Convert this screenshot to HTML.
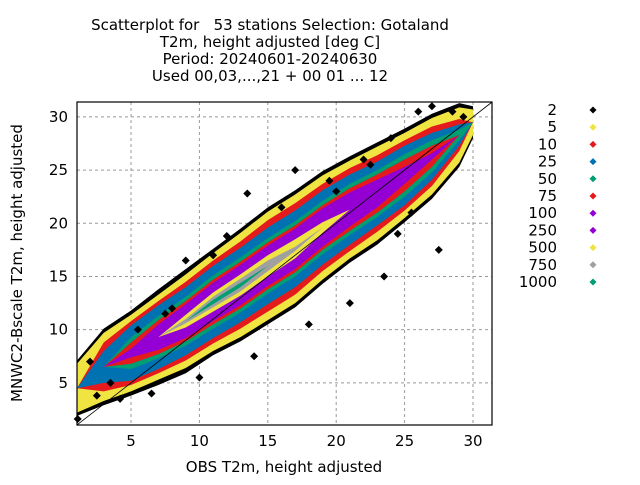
<!DOCTYPE html>
<html><head><meta charset="utf-8"><style>
body{margin:0;background:#fff;}
svg text{font-family:"DejaVu Sans","Liberation Sans",sans-serif;fill:#000;}
</style></head><body>
<svg id="chart" width="640" height="480" viewBox="0 0 640 480">
<g font-size="15" text-anchor="middle">
<text x="270" y="30" xml:space="preserve">Scatterplot for   53 stations Selection: Gotaland</text>
<text x="270" y="47">T2m, height adjusted [deg C]</text>
<text x="270" y="64">Period: 20240601-20240630</text>
<text x="270" y="81">Used 00,03,...,21 + 00 01 ... 12</text>
</g>
<g id="grid"></g>
<g id="bands"></g>
<g id="pts"></g>
<line id="diag" stroke="#000" stroke-width="0.8"/>
<rect x="77" y="102" width="415" height="323" fill="none" stroke="#000" stroke-width="1.2"/>
<g id="ticks" font-size="15"></g>
<text x="284" y="472" font-size="15" text-anchor="middle">OBS T2m, height adjusted</text>
<text transform="translate(22,263) rotate(-90)" font-size="15" text-anchor="middle">MNWC2-Bscale T2m, height adjusted</text>
<g id="legend" font-size="15"></g>
</svg>
<script>
const xs      = [1,3,5,7,9,11,13,15,17,19,21,23,25,27,29,30];
const centers = [4.5,6.5,7.8,9.3,10.8,12.6,14.2,16,17.6,19.6,21.3,22.8,24.5,26.3,28.3,29.5];
const levels  = ["2","5","10","25","50","75","100","250","500","750","1000"];
const colors  = ["#000000","#f0e442","#e41a1c","#0072b2","#009e73","#e41a1c","#9400d3","#9400d3","#f0e442","#a0a0a0","#009e73"];
const hwBlack  = [2.6,3.6,4,4.5,4.9,5,5.3,5.5,5.5,5.3,5,4.8,4.4,4,3,1.5];
const hwY5     = [2.3,3.2,3.6,4,4.4,4.6,4.9,5.1,5.1,4.9,4.6,4.4,4,3.6,2.6,1.2];
const hwR10    = [0,2.3,3,3.4,3.7,3.9,4.1,4.3,4.3,4.1,3.9,3.6,3.3,2.8,1.5,0];
const hwB25    = [0,1.5,2.6,3,3.2,3.4,3.5,3.6,3.6,3.5,3.3,3,2.8,2.2,1,0];
const hwT50    = [0,0,1.5,2,2.3,2.5,2.6,2.6,2.6,2.5,2.4,2.2,2,1.5,0.5,0];
const hwR75    = [0,0,1,1.6,1.9,2.1,2.2,2.2,2.2,2.1,2,1.8,1.5,1,0,0];
const hwP100   = [0,0,0.4,1.2,1.6,1.8,1.9,1.9,1.9,1.8,1.6,1.3,0.8,0.3,0,0];
const hwP250   = [0,0,0,0.7,1.2,1.5,1.6,1.6,1.6,1.4,1.1,0.6,0,0,0,0];
const hwY500   = [0,0,0,0,0.6,0.9,1,1,0.9,0.5,0,0,0,0,0,0];
const hwG750   = [0,0,0,0,0.2,0.5,0.6,0.5,0.2,0,0,0,0,0,0,0];
const hwT1000  = [0,0,0,0,0,0.2,0.2,0,0,0,0,0,0,0,0,0];
const outX = [1.1,2,3.5,4.2,6.5,8,9,12,13.5,17,20,22,24,26,27,28.5,29.3,18,21,23.5,10,14,25.5,27.5,11,16,19.5,22.5,7.5,5.5,2.5,24.5];
const outY = [1.6,7,5,3.5,4,12,16.5,18.8,22.8,25,23,26,28,30.5,31,30.5,30,10.5,12.5,15,5.5,7.5,21,17.5,17,21.5,24,25.5,11.5,10,3.8,19];
const ticks = [5,10,15,20,25,30];

const NS="http://www.w3.org/2000/svg";
const X0=1.05,X1=31.39,Y0=1.04,Y1=31.4;
const sx=v=>77+(v-X0)/(X1-X0)*415;
const sy=v=>425-(v-Y0)/(Y1-Y0)*323;
function mk(tag,p,a){const e=document.createElementNS(NS,tag);for(const k in a)e.setAttribute(k,a[k]);p.appendChild(e);return e;}

const grid=document.getElementById('grid'),tk=document.getElementById('ticks');
ticks.forEach(t=>{
  const g1=mk('line',grid,{x1:sx(t),x2:sx(t),y1:102,y2:425,stroke:'#999','stroke-dasharray':'3,3','stroke-width':1});
  
  
  const g2=mk('line',grid,{x1:77,x2:492,y1:sy(t),y2:sy(t),stroke:'#999','stroke-dasharray':'3,3','stroke-width':1});
  
  
  const a=mk('text',tk,{x:sx(t),y:446,'text-anchor':'middle'});a.textContent=t;
  
  
  const b=mk('text',tk,{x:68,y:sy(t)+5,'text-anchor':'end'});b.textContent=t;
  
  
});

const hws=[hwBlack,hwY5,hwR10,hwB25,hwT50,hwR75,hwP100,hwP250,hwY500,hwG750,hwT1000];
const bands=document.getElementById('bands');
hws.forEach((hw,li)=>{
  const up=[],lo=[];
  xs.forEach((x,i)=>{
    const cx=Math.max(X0,Math.min(X1,x));
    up.push(sx(cx)+','+sy(Math.min(Y1,centers[i]+hw[i])));
    lo.unshift(sx(cx)+','+sy(Math.max(Y0,centers[i]-hw[i])));
  });
  const p=mk('polygon',bands,{points:up.concat(lo).join(' '),fill:colors[li]});
  
  
});
const pts=document.getElementById('pts');
outX.forEach((x,i)=>{
  const X=sx(x),Y=sy(outY[i]);
  const d=mk('polygon',pts,{points:`${X},${Y-4} ${X+4},${Y} ${X},${Y+4} ${X-4},${Y}`,fill:'#000'});
  
  
});
const dg=document.getElementById('diag');
dg.setAttribute('x1',sx(X0));dg.setAttribute('y1',sy(X0));
dg.setAttribute('x2',sx(Y1));dg.setAttribute('y2',sy(Y1));

const lg=document.getElementById('legend');
levels.forEach((l,i)=>{
  const y=110+i*17.2;
  const t=mk('text',lg,{x:557,y:y+5,'text-anchor':'end'});t.textContent=l;
  
  
  const d=mk('polygon',lg,{points:`593,${y-3.5} 596.5,${y} 593,${y+3.5} 589.5,${y}`,fill:colors[i]});
  
  
});
</script>
</body></html>
